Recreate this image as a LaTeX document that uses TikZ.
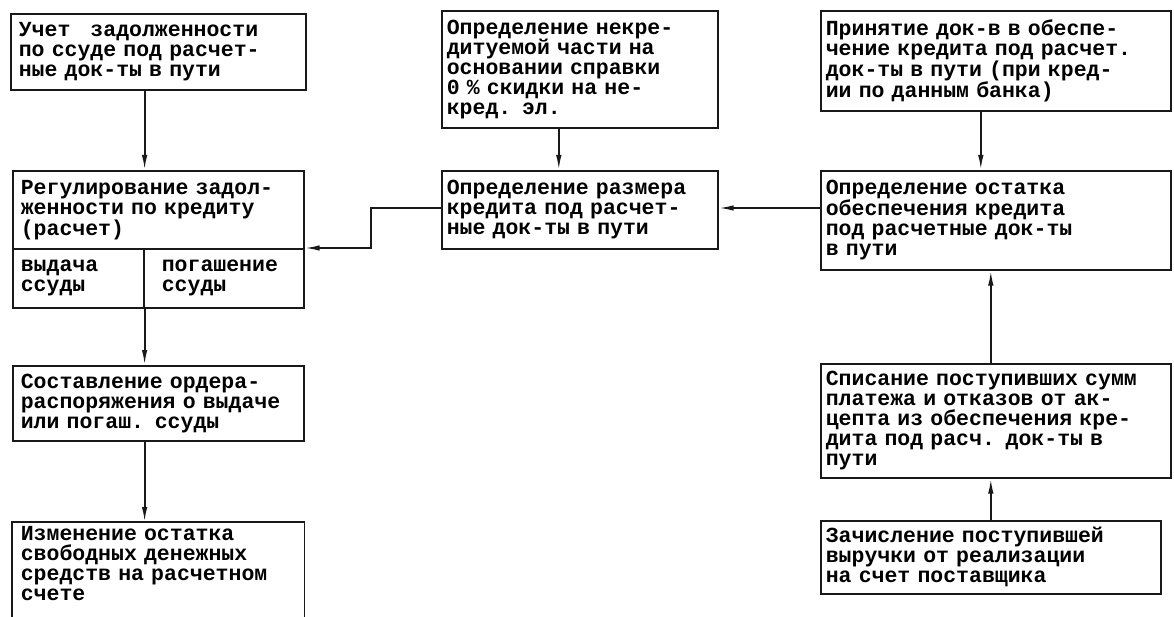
\documentclass[tikz,border=0pt]{standalone}
\usepackage{fontspec}
\newfontfamily\typefont{Liberation Mono}
\usetikzlibrary{arrows.meta,positioning,calc}
\tikzset{
  flow/.style={->, line width=1.8pt, draw=black!90, >={Latex[length=15pt,width=5.5pt]}},
  rim/.style={line width=1.6pt, draw=black!90},
  card/.style={draw=black!90, line width=1.6pt, rectangle, anchor=north west, align=left,
    inner xsep=8pt, inner ysep=2pt, font=\typefont\bfseries\fontsize{21.5}{20}\selectfont}
}

\begin{document}
\begin{tikzpicture}[x=1pt,y=-1pt]
  \clip (0,0) rectangle (1174,617);
  \fill[white] (0,0) rectangle (1174,617);

  % left column
  \node[card, text width=279pt, minimum height=76pt] (acc) at (10,13)
    {Учет \hphantom{x}задолженности\\по ссуде под расчет-\\ные док-ты в пути};
  \node[card, text width=275pt, minimum height=78pt] (regtop) at (12,170)
    {Регулирование задол-\\женности по кредиту\\(расчет)};
  \node[card, text width=115pt, minimum height=59pt] (regleft) at (12,248)
    {выдача\\ссуды};
  \node[card, inner xsep=18pt, text width=124pt, minimum height=59pt] (regright) at (143,248)
    {погашение\\ссуды};
  \node[card, text width=275pt, minimum height=75pt] (order) at (12,365)
    {Составление ордера-\\распоряжения о выдаче\\или погаш. ссуды};
  \node[card, draw=none, text width=275pt, inner ysep=4pt] (balance) at (12,522)
    {Изменение остатка\\свободных денежных\\средств на расчетном\\счете};
  \draw[rim] ([yshift=-30pt]balance.south west) -- (balance.north west)
    -- (balance.north east) -- ([yshift=-30pt]balance.south east);

  % middle column
  \node[card, inner xsep=5pt, text width=266pt, minimum height=117pt] (exclude) at (441,10)
    {Определение некре-\\дитуемой части на\\основании справки\\0 \% скидки на не-\\кред. эл.};
  \node[card, inner xsep=5pt, text width=266pt, minimum height=78pt] (size) at (441,170)
    {Определение размера\\кредита под расчет-\\ные док-ты в пути};

  % right column
  \node[card, inner xsep=5pt, text width=340pt, minimum height=100pt] (accept) at (820,10)
    {Принятие док-в в обеспе-\\чение кредита под расчет.\\док-ты в пути (при кред-\\ии по данным банка)};
  \node[card, inner xsep=5pt, text width=340pt, minimum height=99pt] (rest) at (820,170)
    {Определение остатка\\обеспечения кредита\\под расчетные док-ты\\в пути};
  \node[card, inner xsep=5pt, text width=340pt, minimum height=114pt] (writeoff) at (820,363)
    {Списание поступивших сумм\\платежа и отказов от ак-\\цепта из обеспечения кре-\\дита под расч. док-ты в\\пути};
  \node[card, inner xsep=5pt, text width=330pt, minimum height=73pt] (credit) at (820,520)
    {Зачисление поступившей\\выручки от реализации\\на счет поставщика};

  \coordinate (hy) at (0,208);
  \coordinate (bend) at (371,0);

  \draw[flow] (acc.south -| regleft.east) -- (regtop.north -| regleft.east);
  \draw[flow] (regleft.south east) -- (order.north -| regleft.east);
  \draw[flow] (order.south -| regleft.east) -- (balance.north -| regleft.east);
  \draw[flow] ([xshift=-21pt]exclude.south) -- ([xshift=-21pt]exclude.south |- size.north);
  \draw[flow] ([xshift=-15pt]accept.south) -- ([xshift=-15pt]accept.south |- rest.north);
  \draw[flow] (rest.west |- hy) -- (size.east |- hy);
  \draw[flow] (size.west |- hy) -| (bend |- regright.north) -- (regright.north east);
  \draw[flow] ([xshift=-5pt]writeoff.north) -- ([xshift=-5pt]writeoff.north |- rest.south);
  \draw[flow] (credit.north) -- (credit.north |- writeoff.south);
\end{tikzpicture}
\end{document}
